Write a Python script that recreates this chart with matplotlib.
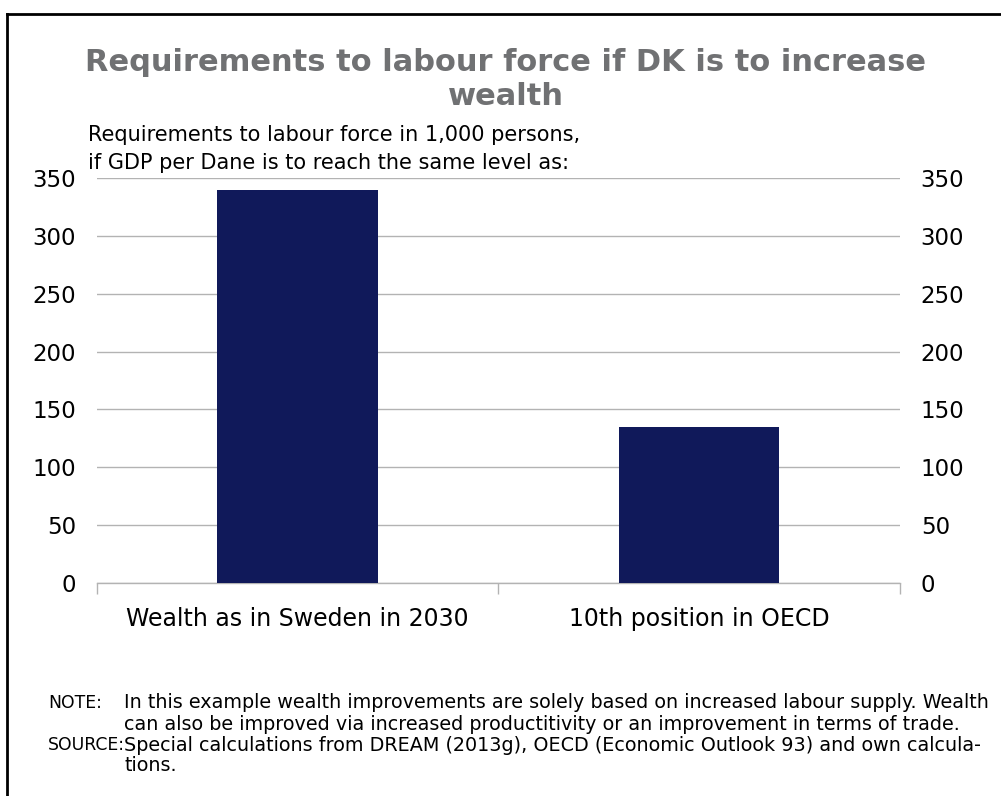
import numpy as np
import matplotlib
matplotlib.use("Agg")
import matplotlib.pyplot as plt
from matplotlib.lines import Line2D

# ── Data ─────────────────────────────────────────────────────────────
categories = ["Wealth as in Sweden in 2030", "10th position in OECD"]
labour_force = [340, 135]          # 1,000 persons
y_ticks = [0, 50, 100, 150, 200, 250, 300, 350]

BAR_COLOR = "#10195a"
GRID_COLOR = "#b3b3b3"
TITLE_COLOR = "#707173"

plt.rcParams.update({"font.family": "DejaVu Sans"})

fig = plt.figure(figsize=(10.01, 7.96), dpi=100)
ax = fig.add_axes([0.0969, 0.2676, 0.8021, 0.5088])

x = np.arange(len(categories))
ax.bar(x, labour_force, width=0.4, color=BAR_COLOR, zorder=3)

ax.set_xlim(-0.5, len(categories) - 0.5)
ax.set_ylim(0, 350)
ax.set_yticks(y_ticks)
ax.yaxis.grid(True, color=GRID_COLOR, linewidth=1.0, zorder=0)
ax.set_axisbelow(True)

for side in ["top", "right", "left"]:
    ax.spines[side].set_visible(False)
ax.spines["bottom"].set_color(GRID_COLOR)
ax.spines["bottom"].set_linewidth(1.0)

# Category labels, tick marks at category boundaries
ax.set_xticks(x)
ax.set_xticklabels(categories, fontsize=17)
ax.tick_params(axis="x", length=0, pad=17)
ax.set_xticks(np.arange(-0.5, len(categories)), minor=True)
ax.tick_params(axis="x", which="minor", length=8, color=GRID_COLOR,
               direction="out", width=1.0)

# Same scale labelled on both sides
ax.tick_params(axis="y", length=0, labelsize=16.5, pad=15,
               labelleft=True, labelright=True)

# ── Titles ───────────────────────────────────────────────────────────
fig.text(0.505, 0.9, "Requirements to labour force if DK is to increase\nwealth",
         ha="center", va="center", fontsize=22, fontweight="bold",
         color=TITLE_COLOR, linespacing=1.25)
fig.text(0.088, 0.8128, "Requirements to labour force in 1,000 persons,\n"
         "if GDP per Dane is to reach the same level as:",
         ha="left", va="center", fontsize=15, linespacing=1.45)

# ── Notes ────────────────────────────────────────────────────────────
note_fs = 13.8
label_fs = 12.4
fig.text(0.048, 0.117, "NOTE:", ha="left", va="center", fontsize=label_fs)
fig.text(0.124, 0.117, "In this example wealth improvements are solely based on "
         "increased labour supply. Wealth", ha="left", va="center", fontsize=note_fs)
fig.text(0.124, 0.09, "can also be improved via increased productitivity or an "
         "improvement in terms of trade.", ha="left", va="center", fontsize=note_fs)
fig.text(0.048, 0.064, "SOURCE:", ha="left", va="center", fontsize=label_fs)
fig.text(0.124, 0.064, "Special calculations from DREAM (2013g), OECD (Economic "
         "Outlook 93) and own calcula-", ha="left", va="center", fontsize=note_fs)
fig.text(0.124, 0.038, "tions.", ha="left", va="center", fontsize=note_fs)

# Frame around the chart
fig.add_artist(Line2D([0.007, 0.007], [0.0, 0.982], color="black", linewidth=2))
fig.add_artist(Line2D([0.007, 1.0], [0.982, 0.982], color="black", linewidth=2))

fig.savefig("out.png", dpi=100)
